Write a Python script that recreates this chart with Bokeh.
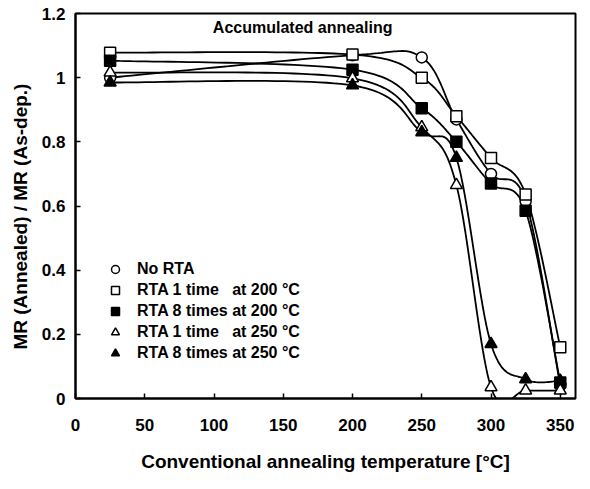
import numpy as np
from bokeh.plotting import figure
from bokeh.models import Label, Legend, LegendItem, CustomJSTickFormatter, Range1d
from bokeh.embed import file_html
from bokeh.resources import INLINE

# ---- data ----
temps = [25, 200, 250, 275, 300, 325, 350]
no_rta = [1.00, 1.07, 1.063, 0.87, 0.70, 0.615, 0.04]
rta1_200 = [1.078, 1.072, 1.00, 0.88, 0.75, 0.636, 0.16]
rta8_200 = [1.053, 1.025, 0.905, 0.80, 0.67, 0.585, 0.05]
rta1_250 = [1.016, 0.998, 0.845, 0.665, 0.035, 0.025, 0.025]
rta8_250 = [0.985, 0.976, 0.83, 0.75, 0.17, 0.06, 0.055]

labels = ["No RTA", "RTA 1 time   at 200 \u00b0C", "RTA 8 times at 200 \u00b0C",
          "RTA 1 time   at 250 \u00b0C", "RTA 8 times at 250 \u00b0C"]
x_ticks = [0, 50, 100, 150, 200, 250, 300, 350]
y_ticks = [0, 0.2, 0.4, 0.6, 0.8, 1.0, 1.2]

X0, X1 = 0, 361
Y0, Y1 = 0, 1.2
FONT = "Liberation Sans"

p = figure(width=590, height=489, output_backend="svg", toolbar_location=None,
           x_range=Range1d(X0, X1), y_range=Range1d(Y0, Y1),
           min_border_left=75, min_border_right=15, min_border_top=13, min_border_bottom=91)
p.background_fill_color = "white"
p.border_fill_color = "white"
p.outline_line_color = "black"
p.outline_line_width = 2
p.xgrid.visible = False
p.ygrid.visible = False

kx = 500.0 / (X1 - X0)
ky = 385.0 / (Y1 - Y0)

def smooth(xs, ys, n=30):
    P = np.column_stack([np.asarray(xs, float) * kx, np.asarray(ys, float) * ky])
    out = []
    m = len(P)
    for i in range(m - 1):
        p0 = P[i - 1] if i > 0 else P[i]
        p1 = P[i]
        p2 = P[i + 1]
        p3 = P[i + 2] if i + 2 < m else P[i + 1]
        c1 = p1 + (p2 - p0) / 6.0
        c2 = p2 - (p3 - p1) / 6.0
        t = np.linspace(0, 1, n, endpoint=(i == m - 2))[:, None]
        seg = (1 - t) ** 3 * p1 + 3 * (1 - t) ** 2 * t * c1 + 3 * (1 - t) * t ** 2 * c2 + t ** 3 * p2
        out.append(seg)
    S = np.vstack(out)
    return S[:, 0] / kx, S[:, 1] / ky

series = [no_rta, rta1_200, rta8_200, rta1_250, rta8_250]
markers = ["circle", "square", "square", "triangle", "triangle"]
fills = ["white", "white", "black", "white", "black"]
sizes = [11, 11, 11, 12, 12]

for ys in series:
    sx, sy = smooth(temps, ys)
    p.line(sx, sy, line_color="black", line_width=1.8)

rends = []
for ys, mk, fc, sz in zip(series, markers, fills, sizes):
    r = p.scatter(temps, ys, marker=mk, size=sz, fill_color=fc, line_color="black", line_width=1.5)
    rends.append(r)

legend = Legend(items=[LegendItem(label=l, renderers=[r]) for l, r in zip(labels, rends)],
                location=(30, 35), padding=0, margin=0, spacing=1,
                label_height=20, glyph_height=20, glyph_width=20, label_standoff=12,
                label_text_font=FONT, label_text_font_size="16px", label_text_font_style="bold",
                label_text_color="black", background_fill_alpha=0, border_line_alpha=0)
p.add_layout(legend)

p.add_layout(Label(x=164, y=1.157, text="Accumulated annealing", text_align="center",
                   text_baseline="middle", text_font=FONT, text_font_size="16px",
                   text_font_style="bold", text_color="black"))

# axes
fmt = CustomJSTickFormatter(code="return (Math.round(tick*10)/10).toString();")
for ax in (p.xaxis[0], p.yaxis[0]):
    ax.axis_line_width = 2
    ax.major_tick_in = 5
    ax.major_tick_out = 0
    ax.minor_tick_in = 4
    ax.minor_tick_out = 0
    ax.major_tick_line_width = 1.5
    ax.minor_tick_line_width = 1.5
    ax.major_label_text_font = FONT
    ax.major_label_text_font_size = "17px"
    ax.major_label_text_font_style = "bold"
    ax.major_label_text_color = "black"

p.xaxis.ticker = x_ticks
p.xaxis[0].ticker.num_minor_ticks = 2
p.xaxis.major_label_standoff = 20
p.xaxis.axis_label = "Conventional annealing temperature [\u00b0C]"
p.xaxis.axis_label_text_font = FONT
p.xaxis.axis_label_text_font_size = "19px"
p.xaxis.axis_label_text_font_style = "bold"
p.xaxis.axis_label_text_color = "black"
p.xaxis.axis_label_standoff = 17

p.yaxis.ticker = y_ticks
p.yaxis[0].ticker.num_minor_ticks = 2
p.yaxis.formatter = fmt
p.yaxis.major_label_standoff = 10
p.yaxis.axis_label = "MR  (Annealed)  /  MR  (As-dep.)"
p.yaxis.axis_label_text_font = FONT
p.yaxis.axis_label_text_font_size = "19px"
p.yaxis.axis_label_text_font_style = "bold"
p.yaxis.axis_label_text_color = "black"
p.yaxis.axis_label_standoff = 8

open("out.html", "w").write(file_html(p, INLINE))
